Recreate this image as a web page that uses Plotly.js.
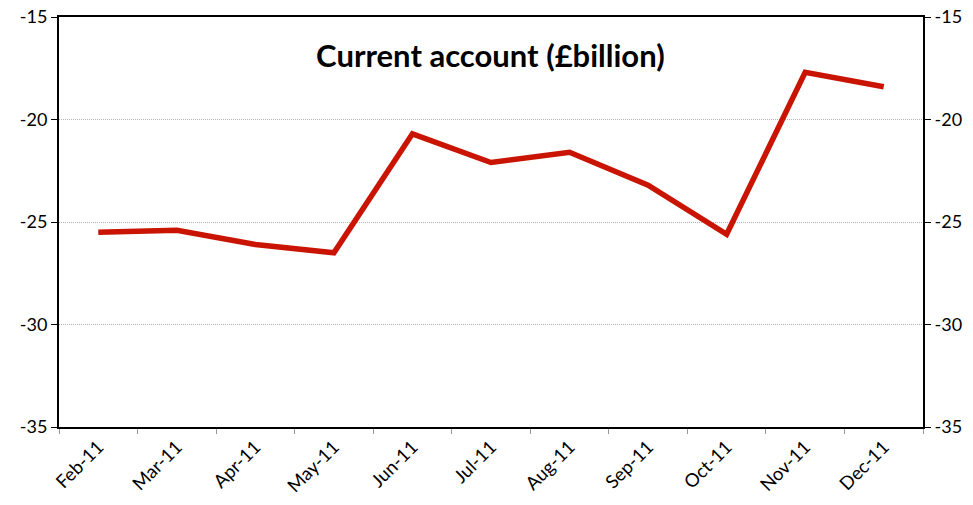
<!DOCTYPE html>
<html>
<head>
<meta charset="utf-8">
<script src="https://cdn.plot.ly/plotly-3.0.1.min.js"></script>
<style>html,body{margin:0;padding:0;background:#fff;}#chart{width:973px;height:505px;}</style>
</head>
<body>
<div id="chart"></div>
<script>
const months = ["Feb-11","Mar-11","Apr-11","May-11","Jun-11","Jul-11","Aug-11","Sep-11","Oct-11","Nov-11","Dec-11"];
const currentAccount = [-25.5,-25.4,-26.1,-26.5,-20.7,-22.1,-21.6,-23.2,-25.6,-17.7,-18.4];
const yTicks = [-35,-30,-25,-20,-15];
const titleText = "Current account (£billion)";

const fontFam = "Lato, 'Open Sans', sans-serif";
const data = [{
  x: months, y: currentAccount, type: "scatter", mode: "lines",
  line: {color: "#C81400", width: 5.5}, hoverinfo: "skip"
},{
  x: months, y: currentAccount, type: "scatter", mode: "lines", yaxis: "y2",
  line: {color: "rgba(0,0,0,0)", width: 0}, hoverinfo: "skip", showlegend: false
}];
const layout = {
  width: 973, height: 505,
  margin: {l: 58.7, r: 50.3, t: 16.7, b: 78.3},
  paper_bgcolor: "#fff", plot_bgcolor: "#fff",
  showlegend: false,
  font: {family: fontFam, size: 18, color: "#000"},
  title: {text: "<b>" + titleText + "</b>", x: 0.504, xanchor: "center", y: 0.888, yanchor: "middle", yref: "container",
          font: {family: fontFam, size: 31, color: "#000"}},
  xaxis: {
    type: "category", range: [-0.5, 10.5], tickson: "boundaries",
    ticks: "outside", ticklen: 5, tickcolor: "#999", tickwidth: 1,
    showline: true, linecolor: "#000", linewidth: 2, mirror: true,
    showgrid: false, zeroline: false, tickangle: -45,
    tickfont: {family: fontFam, size: 18.5, color: "#000"}
  },
  yaxis: {
    range: [-35, -15], tickvals: yTicks, ticktext: yTicks.map(String),
    ticks: "outside", ticklen: 6, tickcolor: "#000", tickwidth: 1,
    showline: true, linecolor: "#000", linewidth: 2,
    showgrid: true, gridcolor: "#b5b5b5", gridwidth: 1, griddash: "1px,1px",
    zeroline: false, tickfont: {family: fontFam, size: 18, color: "#000"}
  },
  yaxis2: {
    overlaying: "y", side: "right", range: [-35, -15], tickvals: yTicks, ticktext: yTicks.map(String),
    ticks: "outside", ticklen: 6, tickcolor: "#000", tickwidth: 1,
    showline: true, linecolor: "#000", linewidth: 2,
    showgrid: false, zeroline: false, tickfont: {family: fontFam, size: 18, color: "#000"}
  }
};
Plotly.newPlot("chart", data, layout, {displayModeBar: false, staticPlot: true});
</script>
</body>
</html>
